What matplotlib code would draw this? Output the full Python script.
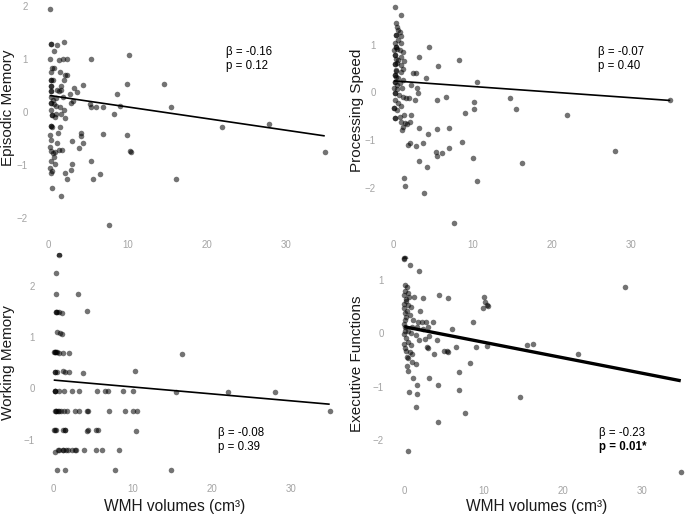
import numpy as np
import matplotlib
matplotlib.use("Agg")
from matplotlib import pyplot as plt

plt.rcParams['font.family'] = ['Liberation Sans', 'DejaVu Sans']

W, H = 685, 520

# Episodic memory vs WMH volume
em_x = [0.21, 0.34, 0.34, 1.18, 2.02, 0.76, 0.21, 1.35, 1.89, 2.44, 5.46, 10.25,
        0.50, 0.76, 0.34, 1.47, 2.19, 2.44, 2.02, 0.34, 0.34, 0.63, 0.34, 0.34,
        1.60, 1.18, 0.42, 0.42, 1.35, 1.60, 3.28, 3.70, 4.41, 10.0, 14.6, 2.73,
        8.74, 0.34, 0.63, 1.05, 1.89, 0.42, 0.42, 0.76, 1.05, 1.47, 2.02, 2.86,
        3.15, 5.25, 5.40, 6.10, 6.94, 9.04, 15.5, 0.34, 0.50, 0.50, 0.84, 1.05,
        1.60, 2.10, 8.32, 0.34, 0.34, 0.50, 1.47, 21.9, 27.9, 1.26, 0.21, 0.42,
        1.18, 0.21, 0.34, 0.63, 0.84, 1.35, 1.77, 4.12, 4.20, 4.41, 3.87, 3.07,
        6.94, 10.0, 10.5, 10.4, 34.9, 0.76, 0.42, 0.21, 0.50, 0.34, 0.84, 2.10,
        2.44, 2.86, 3.03, 5.38, 5.67, 6.52, 16.2, 0.50, 1.60, 7.65, 1.43]
em_y = [1.93, 1.28, 1.28, 1.26, 1.32, 1.15, 1.00, 0.98, 1.00, 1.00, 1.00, 1.07,
        0.83, 0.83, 0.76, 0.76, 0.69, 0.69, 0.61, 0.61, 0.61, 0.60, 0.48, 0.48,
        0.48, 0.41, 0.40, 0.40, 0.40, 0.41, 0.46, 0.38, 0.51, 0.52, 0.52, 0.34,
        0.34, 0.29, 0.23, 0.26, 0.29, 0.16, 0.16, 0.15, 0.11, 0.10, 0.04, 0.16,
        0.21, 0.15, 0.10, 0.10, 0.10, 0.12, 0.09, 0.04, -0.06, -0.06, -0.09, -0.03,
        -0.03, -0.12, -0.04, -0.26, -0.26, -0.29, -0.29, -0.29, -0.22, -0.40, -0.43, -0.53,
        -0.58, -0.65, -0.73, -0.78, -0.76, -0.71, -0.71, -0.39, -0.46, -0.59, -0.68, -0.54,
        -0.41, -0.43, -0.76, -0.73, -0.76, -0.84, -0.93, -1.06, -1.10, -1.15, -0.98, -1.15,
        -1.25, -1.09, -0.98, -0.93, -1.25, -1.17, -1.25, -1.42, -1.57, -2.12, -2.69]

# Processing speed vs WMH volume
ps_x = [0.23, 0.90, 0.36, 0.48, 0.57, 0.78, 0.36, 0.90, 0.57, 0.23, 0.99, 0.36,
        0.06, 0.78, 0.45, 1.20, 0.23, 0.99, 0.57, 0.30, 1.32, 0.15, 0.90, 0.45,
        1.20, 0.36, 0.90, 0.15, 0.57, 0.30, 1.20, 0.23, 0.78, 0.40, 0.06, 0.48,
        1.07, 0.15, 0.65, 1.20, 1.62, 0.23, 0.57, 0.90, 0.06, 0.48, 0.15, 0.78,
        1.32, 0.99, 1.41, 1.74, 1.20, 2.04, 2.25, 1.07,
        3.17, 4.44, 2.46, 2.84, 4.14, 2.16, 3.00, 3.09, 2.75, 1.91, 5.65, 8.26,
        10.5, 6.62, 5.45, 10.15, 10.2, 14.7, 15.45, 9.0, 21.9, 34.9, 27.9, 16.2,
        10.5, 10.06, 8.7, 6.96, 6.96, 5.45, 5.3, 5.5, 6.07, 7.67, 3.90, 4.26,
        3.68, 4.40, 3.18, 3.18, 1.83, 2.04, 2.88, 1.32, 1.49, 1.40,
        0.30, 0.36, 0.23, 0.15, 0.30, 0.15, 0.23, 0.15, 0.06, 0.15]
ps_y = [1.80, 1.62, 1.45, 1.38, 1.31, 1.27, 1.20, 1.18, 1.10, 1.03, 1.04, 0.96,
        0.89, 0.89, 0.92, 0.85, 0.78, 0.75, 0.68, 0.70, 0.66, 0.59, 0.57, 0.62,
        0.50, 0.47, 0.43, 0.36, 0.29, 0.33, 0.26, 0.22, 0.20, 0.15, 0.10, 0.06,
        0.08, -0.02, -0.06, -0.09, -0.13, -0.16, -0.23, -0.29, -0.32, -0.37, -0.55, -0.51,
        -0.48, -0.62, -0.64, -0.67, -0.72, -0.62, -0.48, -0.79,
        0.75, 0.95, 0.41, 0.40, 0.29, 0.15, 0.10, -0.01, -0.16, -0.11, 0.56, 0.68,
        0.21, -0.09, -0.16, -0.21, -0.35, -0.11, -0.35, -0.44, -0.48, -0.16, -1.23, -1.49,
        -1.86, -1.39, -1.04, -1.16, -0.76, -0.78, -1.25, -1.34, -1.27, -2.74, -2.11, -1.56,
        -1.07, -0.88, -0.74, -1.44, -1.11, -1.06, -1.12, -1.81, -1.97, -3.48,
        1.20, 0.96, 0.78, 0.59, 0.45, 0.36, 0.22, -0.02, -0.32, -0.55]

# Working memory vs WMH volume
wm_x = [0.76, 0.34, 0.29, 3.16, 0.29, 0.29, 0.50, 0.76, 1.05, 4.21,
        0.50, 0.84, 1.05, 0.05, 0.18, 0.26, 0.47, 0.68, 1.18, 1.94, 0.30, 16.2,
        0.18, 0.18, 0.47, 1.18, 1.51, 2.02, 3.75, 10.3,
        0.18, 0.18, 0.25, 0.68, 1.31, 2.32, 3.28, 5.48, 6.53, 6.94, 8.76, 10.1,
        15.5, 22.0, 28.0,
        0.20, 0.30, 0.30, 0.60, 0.70, 1.00, 1.30, 1.70, 2.74, 3.28, 4.30, 4.40,
        7.00, 9.05, 10.1, 10.6, 34.9,
        0.05, 0.21, 0.34, 1.18, 1.43, 1.48, 4.26, 4.40, 5.39, 5.60, 10.5,
        0.26, 0.60, 0.76, 1.18, 1.26, 1.60, 1.90, 2.32, 2.70, 2.86, 3.90, 5.39,
        6.10, 8.34,
        0.50, 1.48, 7.80, 14.8]
wm_y = [2.60, 2.24, 1.83, 1.83, 1.48, 1.48, 1.48, 1.48, 1.47, 1.50,
        1.09, 1.07, 1.05, 0.70, 0.70, 0.70, 0.70, 0.69, 0.69, 0.69, 0.70, 0.66,
        0.32, 0.32, 0.32, 0.33, 0.32, 0.32, 0.29, 0.34,
        -0.05, -0.05, -0.05, -0.05, -0.06, -0.05, -0.05, -0.05, -0.05, -0.05, -0.05, -0.05,
        -0.08, -0.08, -0.08,
        -0.44, -0.44, -0.44, -0.44, -0.45, -0.45, -0.44, -0.45, -0.44, -0.44, -0.45, -0.45,
        -0.44, -0.44, -0.44, -0.44, -0.45,
        -0.82, -0.81, -0.81, -0.81, -0.81, -0.82, -0.83, -0.81, -0.81, -0.81, -0.83,
        -1.25, -1.20, -1.20, -1.20, -1.20, -1.20, -1.20, -1.20, -1.21, -1.20, -1.20, -1.20,
        -1.20, -1.20,
        -1.59, -1.59, -1.59, -1.59]

# Executive functions vs WMH volume
ef_x = [0.00, 0.00, 0.72, 1.86, 0.09, 0.30, 0.43, 0.00, 0.59, 1.27, 2.41, 4.39,
        5.48, 0.17, 0.51, 0.00, 0.85, 0.30, 1.98, 0.72, 0.09, 1.14, 1.69, 2.20,
        2.70, 3.67, 8.73, 0.09, 0.93, 1.56, 0.51, 2.41, 3.04, 5.99, 0.00, 0.85,
        1.44, 1.86, 2.62, 3.12, 4.09, 0.43, 0.00, 0.85, 2.83, 3.04, 5.06, 5.36,
        5.57, 6.54, 9.02, 3.80, 0.17, 0.72, 1.02, 0.51, 0.30, 1.02, 1.44, 0.51,
        1.14, 3.12, 8.31, 6.92, 1.56, 0.59, 1.56, 4.22, 6.92, 1.44, 7.67, 4.22,
        0.43,
        10.07, 10.2, 10.4, 10.6, 9.9, 10.5, 15.47, 16.23, 21.9, 27.9, 34.95, 14.63,
        0.09, 0.17, 0.00, 0.09, 0.17, 0.00, 0.09, 0.17, 0.09, 0.30]
ef_y = [1.42, 1.40, 1.28, 1.17, 0.91, 0.86, 0.75, 0.72, 0.69, 0.69, 0.67, 0.72,
        0.67, 0.61, 0.53, 0.47, 0.50, 0.41, 0.42, 0.34, 0.25, 0.25, 0.21, 0.21,
        0.21, 0.21, 0.22, 0.12, 0.12, 0.11, 0.04, 0.09, 0.11, 0.08, -0.02, 0.00,
        -0.03, -0.13, -0.11, -0.05, -0.13, -0.16, -0.21, -0.22, -0.25, -0.27, -0.33, -0.33,
        -0.35, -0.25, -0.25, -0.39, -0.33, -0.36, -0.39, -0.47, -0.61, -0.53, -0.58, -0.71,
        -0.83, -0.84, -0.56, -0.73, -0.97, -1.10, -1.14, -0.97, -1.06, -1.38, -1.50, -1.66,
        -2.21,
        0.69, 0.58, 0.54, 0.52, 0.47, -0.24, -0.22, -0.21, -0.38, 0.86, -2.61, -1.19,
        0.80, 0.65, 0.55, 0.38, 0.30, 0.18, 0.05, -0.08, -0.28, -0.45]

# regression lines: (intercept, slope)
em_fit = (0.315, -0.0219)
ps_fit = (0.24, -0.0118)
wm_fit = (0.161, -0.0135)
ef_fit = (0.123, -0.029)

stats = [("β = -0.16", "p = 0.12"), ("β = -0.07", "p = 0.40"),
         ("β = -0.08", "p = 0.39"), ("β = -0.23", "p = 0.01*")]
names = ["Episodic Memory", "Processing Speed", "Working Memory", "Executive Functions"]
x_ticks = [0, 10, 20, 30]
y_ticks = [[-2, -1, 0, 1, 2], [-2, -1, 0, 1], [-1, 0, 1, 2], [-2, -1, 0, 1]]
xlabel = "WMH volumes (cm³)"

# panel geometry in pixels: rect (l, t, r, b), x0 px, px per x unit, y0 px, px per y unit
panels = [
    dict(rect=(40, 0, 334, 256), x0=48, xs=7.93, y0=112, ys=53.2,
         ylab_r=28, xlab_c=245, name_xy=(8, 108), stat_xy=(226, 52), lw=1.2),
    dict(rect=(386, 0, 682, 258), x0=393.5, xs=7.93, y0=92.3, ys=47.6,
         ylab_r=376, xlab_c=245, name_xy=(357, 110), stat_xy=(598, 52), lw=1.2),
    dict(rect=(45, 253, 339, 484), x0=53.3, xs=7.92, y0=388.3, ys=51.3,
         ylab_r=35, xlab_c=490, name_xy=(8, 363), stat_xy=(218, 433), lw=1.2),
    dict(rect=(396, 253, 685, 484), x0=404.3, xs=7.91, y0=333.3, ys=53.3,
         ylab_r=384, xlab_c=491, name_xy=(357, 364), stat_xy=(599, 433), lw=2.4),
]
data = [(em_x, em_y, em_fit), (ps_x, ps_y, ps_fit), (wm_x, wm_y, wm_fit), (ef_x, ef_y, ef_fit)]

fig = plt.figure(figsize=(W / 100, H / 100), dpi=100)

for i, (p, (xs_, ys_, fit)) in enumerate(zip(panels, data)):
    l, t, r, b = p["rect"]
    ax = fig.add_axes([l / W, 1 - b / H, (r - l) / W, (b - t) / H])
    ax.set_xlim((l - p["x0"]) / p["xs"], (r - p["x0"]) / p["xs"])
    ax.set_ylim((p["y0"] - b) / p["ys"], (p["y0"] - t) / p["ys"])
    ax.scatter(xs_, ys_, s=16, c="black", alpha=0.55, linewidths=0)
    xx = np.array([min(xs_), max(xs_)])
    ax.plot(xx, fit[0] + fit[1] * xx, color="black", lw=p["lw"], solid_capstyle="butt")
    for s in ax.spines.values():
        s.set_visible(False)
    ax.set_xticks(x_ticks)
    ax.set_yticks(y_ticks[i])
    ax.tick_params(length=0, labelsize=7, labelcolor="#a4a4a4")
    ax.tick_params(axis="y", pad=(l - p["ylab_r"]) * 0.72)
    ax.tick_params(axis="x", pad=(p["xlab_c"] - 5.5 - b) * 0.72)
    ax.set_facecolor("none")

    nx, ny = p["name_xy"]
    fig.text(nx / W, 1 - ny / H, names[i], rotation=90, ha="center", va="center",
             fontsize=11, color="#1a1a1a")
    sx, sy = p["stat_xy"]
    fig.text(sx / W, 1 - sy / H, stats[i][0], ha="left", va="center", fontsize=8.3)
    fig.text(sx / W, 1 - (sy + 14) / H, stats[i][1], ha="left", va="center", fontsize=8.3,
             fontweight="bold" if i == 3 else "normal")

fig.text(175 / W, 1 - 506 / H, xlabel, ha="center", va="center", fontsize=11.2, color="#1a1a1a")
fig.text(537 / W, 1 - 506 / H, xlabel, ha="center", va="center", fontsize=11.2, color="#1a1a1a")

fig.savefig("out.png", dpi=100)
